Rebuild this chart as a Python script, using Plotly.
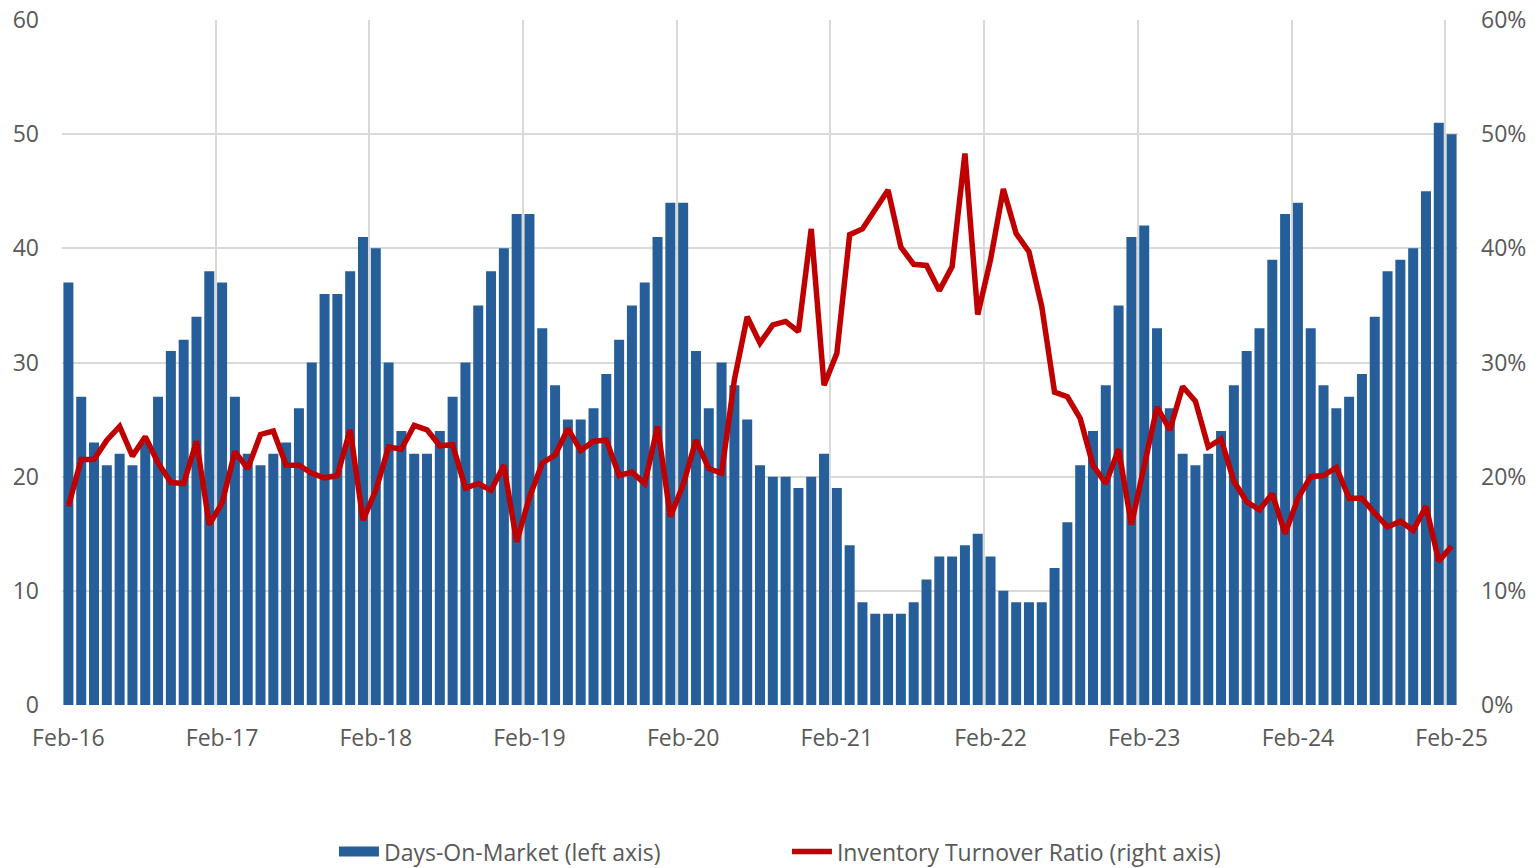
import plotly.graph_objects as go

# Monthly data, Feb-2016 .. Feb-2025
days_on_market = [
    37, 27, 23, 21, 22, 21, 23, 27, 31, 32, 34, 38,
    37, 27, 22, 21, 22, 23, 26, 30, 36, 36, 38, 41,
    40, 30, 24, 22, 22, 24, 27, 30, 35, 38, 40, 43,
    43, 33, 28, 25, 25, 26, 29, 32, 35, 37, 41, 44,
    44, 31, 26, 30, 28, 25, 21, 20, 20, 19, 20, 22,
    19, 14, 9, 8, 8, 8, 9, 11, 13, 13, 14, 15,
    13, 10, 9, 9, 9, 12, 16, 21, 24, 28, 35, 41,
    42, 33, 26, 22, 21, 22, 24, 28, 31, 33, 39, 43,
    44, 33, 28, 26, 27, 29, 34, 38, 39, 40, 45, 51,
    50,
]

turnover_ratio = [
    0.174, 0.215, 0.215, 0.232, 0.244, 0.218, 0.235, 0.212, 0.195, 0.194, 0.231, 0.158,
    0.177, 0.222, 0.207, 0.237, 0.240, 0.210, 0.210, 0.203, 0.199, 0.201, 0.241, 0.162,
    0.188, 0.226, 0.224, 0.245, 0.241, 0.227, 0.228, 0.190, 0.194, 0.188, 0.210, 0.143,
    0.182, 0.212, 0.219, 0.242, 0.223, 0.231, 0.232, 0.201, 0.204, 0.194, 0.244, 0.165,
    0.193, 0.232, 0.207, 0.203, 0.285, 0.340, 0.317, 0.333, 0.336, 0.327, 0.417, 0.280,
    0.308, 0.412, 0.417, 0.435, 0.451, 0.401, 0.386, 0.385, 0.363, 0.384, 0.483, 0.342,
    0.390, 0.452, 0.413, 0.397, 0.349, 0.274, 0.270, 0.251, 0.210, 0.194, 0.224, 0.158,
    0.209, 0.261, 0.241, 0.279, 0.266, 0.226, 0.233, 0.196, 0.178, 0.171, 0.185, 0.150,
    0.181, 0.200, 0.201, 0.208, 0.181, 0.181, 0.168, 0.156, 0.161, 0.153, 0.174, 0.126,
    0.139,
]

tick_labels = ["Feb-16", "Feb-17", "Feb-18", "Feb-19", "Feb-20",
               "Feb-21", "Feb-22", "Feb-23", "Feb-24", "Feb-25"]

months_per_tick = 12
n = len(days_on_market)
x_idx = list(range(n))
tick_vals = [i * months_per_tick for i in range(len(tick_labels))]
grid_vals = [v - 0.5 for v in tick_vals]

BLUE = "#255E99"
RED = "#C00000"
GRID = "#D9D9D9"
TEXT = "#595959"
FONT = "Open Sans"
FS = 23

fig = go.Figure()

fig.add_trace(go.Bar(
    x=x_idx, y=days_on_market, name="Days-On-Market (left axis)",
    marker=dict(color=BLUE, line=dict(width=0)),
    xaxis="x", yaxis="y", showlegend=False,
))
# legend-only entry drawn as a thick bar-like stroke
fig.add_trace(go.Scatter(
    x=[None], y=[None], mode="lines", name="Days-On-Market (left axis)",
    line=dict(color=BLUE, width=11), xaxis="x", yaxis="y",
))
fig.add_trace(go.Scatter(
    x=x_idx, y=turnover_ratio, mode="lines",
    name="Inventory Turnover Ratio (right axis)",
    line=dict(color=RED, width=5.5),
    xaxis="x2", yaxis="y2",
))

xr = [-0.5, n - 0.5]

fig.update_layout(
    width=1540, height=868,
    margin=dict(l=62, r=82, t=20, b=163, autoexpand=False),
    paper_bgcolor="white", plot_bgcolor="white",
    font=dict(family=FONT, size=FS, color=TEXT),
    bargap=0.22,
    showlegend=True,
    legend=dict(orientation="h", x=0.5193, xanchor="center",
                y=-0.214, yanchor="middle",
                font=dict(family=FONT, size=FS, color=TEXT),
                itemwidth=40, tracegroupgap=0,
                entrywidth=398, entrywidthmode="pixels"),
    xaxis=dict(range=xr, tickmode="array", tickvals=tick_vals, ticktext=tick_labels,
               showgrid=False, zeroline=False, showline=False, ticks="",
               ticklabelstandoff=17, fixedrange=True, automargin=False),
    xaxis2=dict(range=xr, overlaying="x", tickmode="array", tickvals=grid_vals,
                showticklabels=False, showgrid=True, gridcolor=GRID, gridwidth=1.5,
                zeroline=False, showline=False, ticks="", automargin=False),
    yaxis=dict(range=[0, 60], dtick=10, tick0=0, showgrid=True, gridcolor=GRID,
               gridwidth=1.5, zeroline=False, showline=False, ticks="",
               ticklabelstandoff=22, automargin=False),
    yaxis2=dict(range=[0, 0.6], dtick=0.1, tick0=0, overlaying="y", side="right",
                tickformat=".0%", showgrid=False, zeroline=False, showline=False,
                ticks="", ticklabelstandoff=22, automargin=False),
)

fig.write_html(
    "out.html",
    config={"displayModeBar": False},
    post_script="document.body.style.margin='0';document.body.style.overflow='hidden';",
)
